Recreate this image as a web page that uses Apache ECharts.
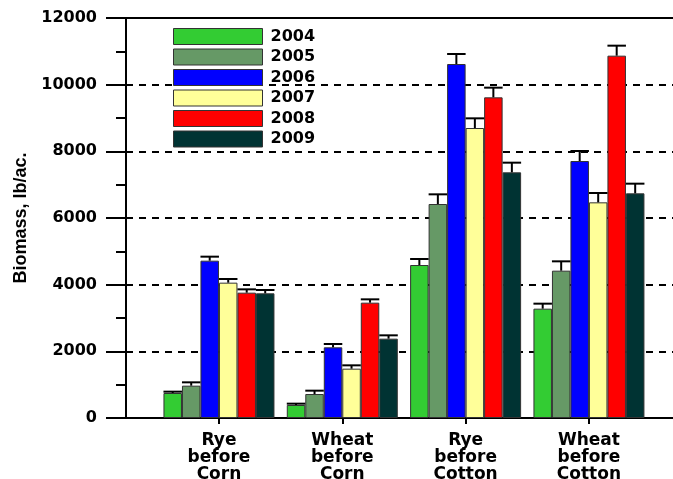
<!DOCTYPE html>
<html>
<head>
    <meta charset="UTF-8">
    <script src="https://cdn.jsdelivr.net/npm/echarts@6/dist/echarts.min.js"></script>
    <title>biomass</title>
    <style>
        html, body { margin: 0; padding: 0; background: #fff; }
        #main { width: 673px; height: 479px; }
    </style>
</head>
<body>
<div id="main"></div>
<script type="text/javascript">

    var categories = ['Rye\nbefore\nCorn', 'Wheat\nbefore\nCorn', 'Rye\nbefore\nCotton', 'Wheat\nbefore\nCotton'];
    var years = ['2004', '2005', '2006', '2007', '2008', '2009'];
    var colors = ['#33cc33', '#669966', '#0000ff', '#ffff99', '#ff0000', '#003333'];

    // biomass per year, one value per category
    var v2004 = [750, 390, 4590, 3280];
    var v2005 = [970, 720, 6420, 4420];
    var v2006 = [4720, 2120, 10620, 7710];
    var v2007 = [4060, 1480, 8700, 6470];
    var v2008 = [3760, 3460, 9620, 10870];
    var v2009 = [3740, 2380, 7370, 6740];

    // upper error bar sizes
    var e2004 = [40, 40, 180, 150];
    var e2005 = [100, 100, 290, 280];
    var e2006 = [120, 100, 300, 300];
    var e2007 = [110, 100, 290, 280];
    var e2008 = [100, 100, 290, 300];
    var e2009 = [100, 100, 290, 290];

    var yTicks = [0, 2000, 4000, 6000, 8000, 10000, 12000];

    var values = [v2004, v2005, v2006, v2007, v2008, v2009];
    var errors = [e2004, e2005, e2006, e2007, e2008, e2009];

    var BW = 18.5;
    var FONT = 'DejaVu Sans';

    var series = [];
    var errData = [];
    for (var k = 0; k < years.length; k++) {
        series.push({
            name: years[k],
            type: 'bar',
            xAxisIndex: 1,
            yAxisIndex: 1,
            barWidth: BW,
            barGap: '0%',
            itemStyle: { color: colors[k], borderColor: '#333', borderWidth: 1 },
            data: values[k]
        });
        for (var i = 0; i < categories.length; i++) {
            errData.push([i, values[k][i], errors[k][i], k]);
        }
    }

    series.push({
        type: 'custom',
        xAxisIndex: 1,
        yAxisIndex: 1,
        z: 5,
        data: errData,
        renderItem: function (params, api) {
            var ci = api.value(0), v = api.value(1), e = api.value(2), k = api.value(3);
            var p0 = api.coord([ci, v]);
            var p1 = api.coord([ci, v + e]);
            var x = p0[0] + (k - 2.5) * BW;
            var st = { stroke: '#000', lineWidth: 2 };
            return {
                type: 'group',
                children: [
                    { type: 'line', shape: { x1: x, y1: p0[1], x2: x, y2: p1[1] }, style: st },
                    { type: 'line', shape: { x1: x - BW / 2, y1: p1[1], x2: x + BW / 2, y2: p1[1] }, style: st }
                ]
            };
        }
    });

    var myChart = echarts.init(document.getElementById('main'));
    myChart.setOption({
        animation: false,
        backgroundColor: '#fff',
        textStyle: { fontFamily: FONT },
        grid: [
            { left: 126, right: 0, top: 18, bottom: 61, containLabel: false, outerBoundsMode: 'none' },
            { left: 157.3, width: 493.3, top: 18, bottom: 61, containLabel: false, outerBoundsMode: 'none' }
        ],
        legend: {
            data: years,
            orient: 'vertical',
            icon: 'rect',
            left: 173,
            top: 28,
            padding: 0,
            itemWidth: 89,
            itemHeight: 16,
            itemGap: 3.5,
            selectedMode: false,
            itemStyle: { borderColor: '#333', borderWidth: 1 },
            textStyle: { fontFamily: FONT, fontWeight: 'bold', fontSize: 16, lineHeight: 16, color: '#000', padding: [0, 0, 0, 3] }
        },
        xAxis: [
            {
                type: 'value', gridIndex: 0, min: 0, max: 1, position: 'bottom',
                axisLine: { show: true, lineStyle: { color: '#000', width: 2 } },
                axisTick: { show: false }, axisLabel: { show: false }, splitLine: { show: false }
            },
            {
                type: 'category', gridIndex: 1, data: categories,
                axisLine: { show: false },
                axisTick: { show: true, alignWithLabel: true, length: 6, lineStyle: { color: '#000', width: 2 } },
                axisLabel: { fontFamily: FONT, fontWeight: 'bold', fontSize: 17, lineHeight: 17, color: '#000', margin: 14 }
            },
            {
                type: 'value', gridIndex: 0, min: 0, max: 1, position: 'top',
                axisLine: { show: true, lineStyle: { color: '#000', width: 2 } },
                axisTick: { show: false }, axisLabel: { show: false }, splitLine: { show: false }
            }
        ],
        yAxis: [
            {
                type: 'value', gridIndex: 0, min: yTicks[0], max: yTicks[yTicks.length - 1], interval: 2000,
                name: 'Biomass, lb/ac.',
                nameLocation: 'middle',
                nameGap: 96,
                nameTextStyle: { fontFamily: 'Liberation Sans', fontWeight: 'bold', fontSize: 18, color: '#000' },
                axisLine: { show: true, lineStyle: { color: '#000', width: 2 } },
                axisTick: { show: true, length: 20, lineStyle: { color: '#000', width: 2 } },
                minorTick: { show: true, splitNumber: 2, length: 10, lineStyle: { color: '#000', width: 2 } },
                axisLabel: {
                    fontFamily: FONT, fontWeight: 'bold', fontSize: 16, color: '#000', margin: 29,
                    formatter: function (v) { return String(v); }
                },
                splitLine: { show: true, lineStyle: { color: '#000', width: 2, type: [7, 6] } }
            },
            {
                type: 'value', gridIndex: 1, min: 0, max: 12000, show: false
            }
        ],
        series: series
    });

</script>
</body>
</html>
